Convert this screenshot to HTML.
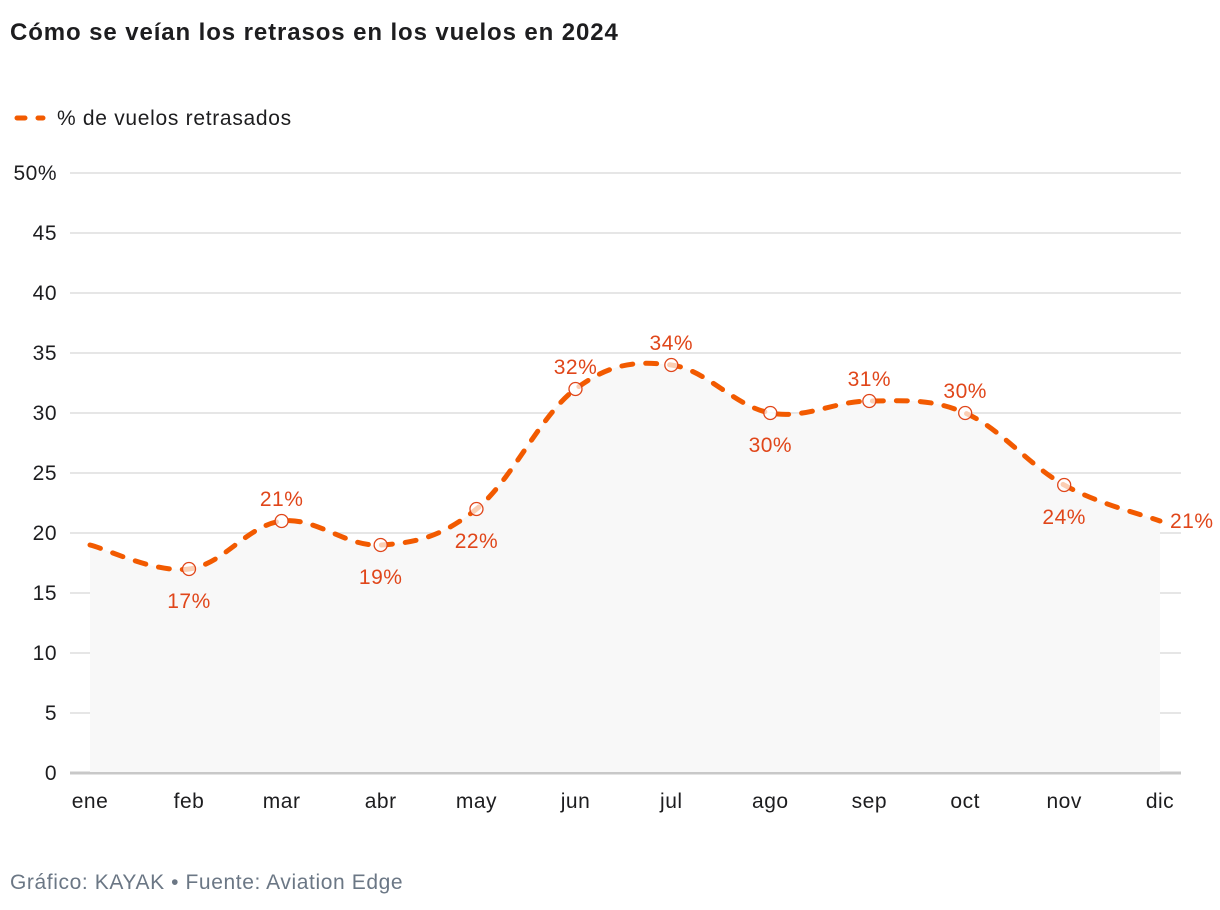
<!DOCTYPE html>
<html><head><meta charset="utf-8"><style>
body{margin:0;background:#fff;font-family:"Liberation Sans",sans-serif;}
svg{display:block}
text{letter-spacing:0.5px}
</style></head><body>
<svg id="chart" width="1220" height="910">
<text x="10" y="40" font-size="24" font-weight="bold" fill="#1d1d1f" style="letter-spacing:0.9px">Cómo se veían los retrasos en los vuelos en 2024</text>
<g>
<line x1="17" y1="118" x2="43" y2="118" stroke="#f25a00" stroke-width="5" stroke-linecap="round" stroke-dasharray="8 13"/>
<text x="57" y="125" font-size="21" fill="#1d1d1f" style="letter-spacing:0.7px">% de vuelos retrasados</text>
</g>
<g id="grid"></g>
<g id="xaxis"></g>
<g id="series"></g>
<text x="10" y="889" font-size="21" fill="#6b7785" style="letter-spacing:0.6px">Gráfico: KAYAK • Fuente: Aviation Edge</text>
</svg>
<script>
const months=["ene","feb","mar","abr","may","jun","jul","ago","sep","oct","nov","dic"];
const monthDays=[0,31,60,91,121,152,182,213,244,274,305,335];
const values=[19,17,21,19,22,32,34,30,31,30,24,21];
const labelPos=["none","below","above","below","below","above","above","below","above","above","below","right"];
const yTicks=[0,5,10,15,20,25,30,35,40,45,50];
const NS="http://www.w3.org/2000/svg";
const x=d=>90+d*(1160-90)/335;
const y=v=>773-v*12;
function mk(t,a,p){const e=document.createElementNS(NS,t);for(const k in a)e.setAttribute(k,a[k]);p.appendChild(e);return e;}
const grid=document.getElementById('grid');
yTicks.forEach(v=>{
  const l=mk('line',{x1:70,x2:1181,y1:y(v),y2:y(v),stroke:v===0?'#c8c8c8':'#dedede','stroke-width':v===0?3:1.5},grid);
  
  
  const t=mk('text',{x:57,y:y(v)+7,'text-anchor':'end','font-size':21,fill:'#1d1d1f'},grid);
  t.textContent=v===50?'50%':v;
  
  
});
const xa=document.getElementById('xaxis');
months.forEach((m,i)=>{
  const t=mk('text',{x:x(monthDays[i]),y:808,'text-anchor':'middle','font-size':21,fill:'#1d1d1f'},xa);
  t.textContent=m;
  
  
});
const pts=values.map((v,i)=>[x(monthDays[i]),y(v)]);
let d='M'+pts[0][0]+','+pts[0][1];
for(let i=0;i<pts.length-1;i++){
  const p0=pts[Math.max(0,i-1)],p1=pts[i],p2=pts[i+1],p3=pts[Math.min(pts.length-1,i+2)];
  const t=0.18;
  const c1=[p1[0]+(p2[0]-p0[0])*t,p1[1]+(p2[1]-p0[1])*t];
  const c2=[p2[0]-(p3[0]-p1[0])*t,p2[1]-(p3[1]-p1[1])*t];
  d+=` C${c1[0]},${c1[1]} ${c2[0]},${c2[1]} ${p2[0]},${p2[1]}`;
}
const s=document.getElementById('series');
const area=mk('path',{d:d+` L${pts[pts.length-1][0]},772 L${pts[0][0]},772 Z`,fill:'#f8f8f8'},s);


const line=mk('path',{d:d,fill:'none',stroke:'#f25a00','stroke-width':5,'stroke-linecap':'round','stroke-dasharray':'11 13'},s);


values.forEach((v,i)=>{
  const [px,py]=pts[i];
  if(i>0&&i<values.length-1){
    const c=mk('circle',{cx:px,cy:py,r:6.5,fill:'rgba(255,255,255,0.7)',stroke:'#e0461a','stroke-width':1.3},s);
    
    
  }
  if(labelPos[i]==='none')return;
  let tx=px,ty=py,anc='middle';
  if(labelPos[i]==='above')ty=py-15;
  else if(labelPos[i]==='below')ty=py+39;
  else {tx=px+10;ty=py+7;anc='start';}
  const t=mk('text',{x:tx,y:ty,'text-anchor':anc,'font-size':21,fill:'#e0461a'},s);
  t.textContent=v+'%';
  
  
});
</script>
</body></html>
